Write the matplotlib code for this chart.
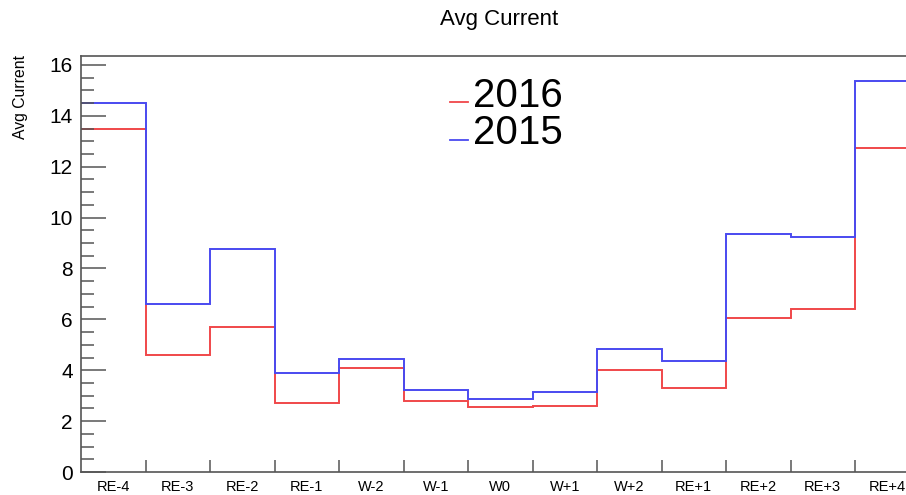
import matplotlib
matplotlib.use("Agg")
import matplotlib.pyplot as plt
import numpy as np
from matplotlib.ticker import MultipleLocator, FixedLocator, NullFormatter
from matplotlib.lines import Line2D

plt.rcParams['font.family'] = ['Liberation Sans', 'DejaVu Sans']

categories = ["RE-4", "RE-3", "RE-2", "RE-1", "W-2", "W-1", "W0", "W+1", "W+2",
              "RE+1", "RE+2", "RE+3", "RE+4"]
vals_2016 = [13.48, 4.6, 5.7, 2.7, 4.1, 2.8, 2.55, 2.58, 4.01, 3.3, 6.07, 6.42, 12.75]
vals_2015 = [14.5, 6.6, 8.75, 3.9, 4.43, 3.22, 2.88, 3.13, 4.85, 4.35, 9.34, 9.25, 15.37]

W, H = 906, 495
fig = plt.figure(figsize=(W / 100, H / 100), dpi=100)
x0, x1 = 81, 919.5
y0, y1 = 472, 56
ax = fig.add_axes([x0 / W, 1 - y0 / H, (x1 - x0) / W, (y0 - y1) / H])

n = len(categories)
edges = np.arange(n + 1)
red = '#f0474a'
blue = '#4a4af0'
ax.stairs(vals_2016, edges, color=red, lw=1.4, baseline=None)
ax.stairs(vals_2015, edges, color=blue, lw=1.4, baseline=None)

ax.set_xlim(0, n)
ax.set_ylim(0, 16.35)

spc = '#555555'
for s in ax.spines.values():
    s.set_color(spc)
    s.set_linewidth(1.2)

# y ticks
ax.yaxis.set_major_locator(MultipleLocator(2))
ax.yaxis.set_minor_locator(MultipleLocator(0.5))
ax.tick_params(axis='y', which='major', direction='in', length=18, width=1.1,
               color=spc, labelsize=15, pad=6)
ax.tick_params(axis='y', which='minor', direction='in', length=9, width=1.1, color=spc)
ax.tick_params(axis='y', right=False, which='both')

# x ticks at edges, labels at centers
ax.xaxis.set_major_locator(FixedLocator(edges[1:-1]))
ax.xaxis.set_major_formatter(NullFormatter())
ax.xaxis.set_minor_locator(FixedLocator(np.arange(n) + 0.5))
ax.set_xticklabels(categories, minor=True)
ax.tick_params(axis='x', which='major', direction='in', length=8.5, width=1.1, color=spc)
ax.tick_params(axis='x', which='minor', length=0, labelsize=10.5, pad=6)

fig.text(499 / W, 1 - 20 / H, "Avg Current", ha='center', va='center', fontsize=16)
fig.text(21 / W, 1 - 55 / H, "Avg Current", rotation=90, ha='center', va='top', fontsize=11.3)

# legend
for label, col, ty, ly in [("2016", red, 96, 102), ("2015", blue, 133, 140)]:
    fig.add_artist(Line2D([450 / W, 468 / W], [1 - ly / H, 1 - ly / H], color=col, lw=1.3,
                          transform=fig.transFigure))
    fig.text(473 / W, 1 - ty / H, label, ha='left', va='center', fontsize=29)

fig.savefig("out.png", dpi=100)
